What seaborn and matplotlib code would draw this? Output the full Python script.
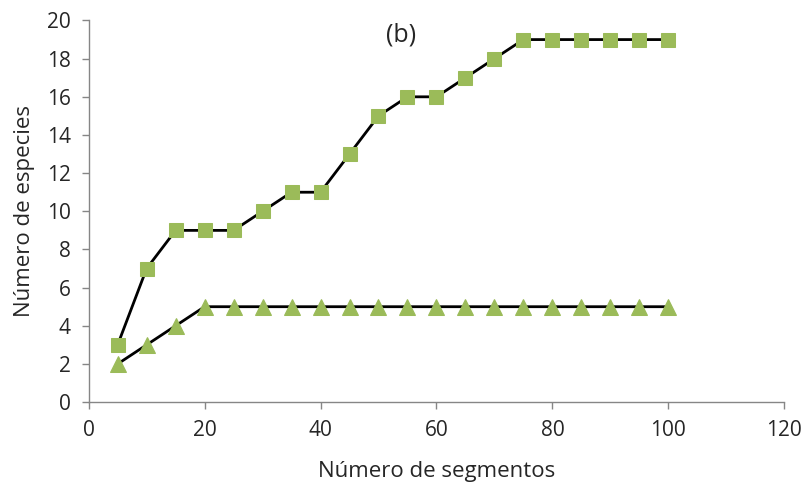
import matplotlib
matplotlib.use('Agg')
import matplotlib.pyplot as plt
import seaborn as sns
import pandas as pd

# data
segmentos = [5, 10, 15, 20, 25, 30, 35, 40, 45, 50, 55, 60, 65, 70, 75, 80, 85, 90, 95, 100]
especies_sq = [3, 7, 9, 9, 9, 10, 11, 11, 13, 15, 16, 16, 17, 18, 19, 19, 19, 19, 19, 19]
especies_tri = [2, 3, 4, 5, 5, 5, 5, 5, 5, 5, 5, 5, 5, 5, 5, 5, 5, 5, 5, 5]

df = pd.DataFrame({'seg': segmentos, 'sq': especies_sq, 'tri': especies_tri})

sns.set_style('white')
plt.rcParams['font.family'] = ['Open Sans', 'DejaVu Sans']

green = '#9bbb59'
gray = '#868686'

fig = plt.figure(figsize=(8.06, 4.88), dpi=100)
ax = fig.add_axes([0.110, 0.176, 0.863, 0.782])

sns.lineplot(data=df, x='seg', y='sq', ax=ax, color='black', lw=2,
             marker='s', markersize=10, markerfacecolor=green, markeredgecolor=green)
sns.lineplot(data=df, x='seg', y='tri', ax=ax, color='black', lw=2,
             marker='^', markersize=11, markerfacecolor=green, markeredgecolor=green)

ax.set_xlim(0, 120)
ax.set_ylim(0, 20)
ax.set_xticks(range(0, 121, 20))
ax.set_yticks(range(0, 21, 2))
ax.set_xlabel('Número de segmentos', fontsize=16, labelpad=14)
ax.set_ylabel('Número de especies', fontsize=16, labelpad=8)
ax.tick_params(axis='both', labelsize=15, direction='out', length=5, color=gray,
               bottom=True, left=True, width=1)
ax.tick_params(axis='y', pad=8)
ax.tick_params(axis='x', pad=8)
sns.despine(ax=ax)
for s in ['left', 'bottom']:
    ax.spines[s].set_color(gray)
    ax.spines[s].set_linewidth(1)

ax.text(0.449, 0.962, '(b)', transform=ax.transAxes, fontsize=18, ha='center', va='center')

fig.savefig('out.png', dpi=100)
